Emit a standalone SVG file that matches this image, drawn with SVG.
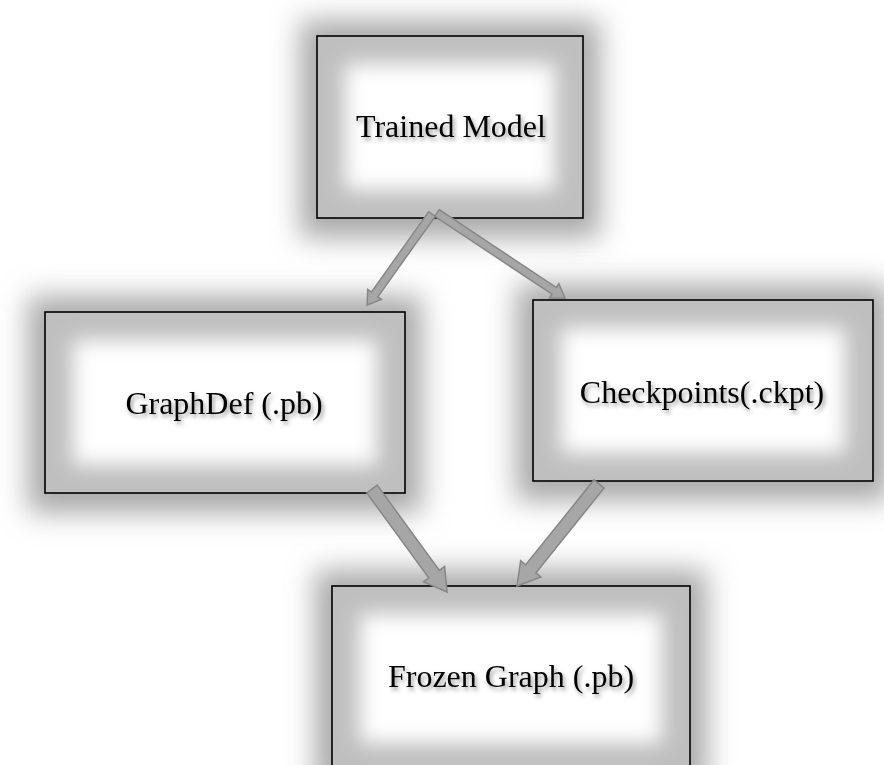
<svg xmlns="http://www.w3.org/2000/svg" width="884" height="765" viewBox="0 0 884 765">
  <defs>
    <style>
      .glow { fill: #a9a9a9; filter: url(#blurOuter); }
      .base { fill: #bfbfbf; }
      .inner { fill: #ffffff; filter: url(#blurInner); }
      .frame { fill: none; stroke: #000000; stroke-width: 1.6; }
      .label { font-family: "Liberation Serif", "Times New Roman", serif; font-size: 32px; fill: #000000; text-anchor: middle; filter: url(#textShadow); }
      .arrow { fill: #a6a6a6; stroke: #878787; stroke-width: 1.5; stroke-linejoin: miter; }
    </style>
    <filter id="blurOuter" x="-40%" y="-60%" width="180%" height="220%">
      <feGaussianBlur stdDeviation="14"/>
    </filter>
    <filter id="blurInner" x="-40%" y="-60%" width="180%" height="220%">
      <feGaussianBlur stdDeviation="10"/>
    </filter>
    <filter id="textShadow" x="-10%" y="-30%" width="120%" height="170%">
      <feDropShadow dx="2" dy="3" stdDeviation="2" flood-color="#000000" flood-opacity="0.4"/>
    </filter>
    <clipPath id="cTrained"><rect x="317" y="36" width="266" height="182"/></clipPath>
    <clipPath id="cGraph"><rect x="45" y="312" width="360" height="181"/></clipPath>
    <clipPath id="cCkpt"><rect x="533" y="300" width="340" height="181"/></clipPath>
    <clipPath id="cFrozen"><rect x="332" y="586" width="358" height="185"/></clipPath>
  </defs>
  <rect width="884" height="765" fill="#ffffff"/>

  <g id="trained-model">
    <rect class="glow" x="300" y="20" width="300" height="218"/>
    <g clip-path="url(#cTrained)">
      <rect class="base" x="317" y="36" width="266" height="182"/>
      <rect class="inner" x="345" y="64" width="210" height="126"/>
    </g>
    <rect class="frame" x="317" y="36" width="266" height="182"/>
    <text class="label" x="451" y="137">Trained Model</text>
  </g>

  <g id="graphdef">
    <rect class="glow" x="28" y="296" width="394" height="217"/>
    <g clip-path="url(#cGraph)">
      <rect class="base" x="45" y="312" width="360" height="181"/>
      <rect class="inner" x="73" y="340" width="304" height="125"/>
    </g>
    <rect class="frame" x="45" y="312" width="360" height="181"/>
    <text class="label" x="224" y="414">GraphDef (.pb)</text>
  </g>

  <g id="checkpoints">
    <rect class="glow" x="516" y="284" width="374" height="217"/>
    <g clip-path="url(#cCkpt)">
      <rect class="base" x="533" y="300" width="340" height="181"/>
      <rect class="inner" x="561" y="328" width="284" height="125"/>
    </g>
    <rect class="frame" x="533" y="300" width="340" height="181"/>
    <text class="label" x="702" y="403">Checkpoints(.ckpt)</text>
  </g>

  <g id="frozen-graph">
    <rect class="glow" x="315" y="570" width="392" height="220"/>
    <g clip-path="url(#cFrozen)">
      <rect class="base" x="332" y="586" width="358" height="185"/>
      <rect class="inner" x="360" y="614" width="302" height="129"/>
    </g>
    <rect class="frame" x="332" y="586" width="358" height="185"/>
    <text class="label" x="511" y="687">Frozen Graph (.pb)</text>
  </g>

  <g id="connectors">
    <path class="arrow" transform="translate(432,214) rotate(125.5)" d="M0,-4 L98.8,-4 L98.8,-8.5 L111.8,0 L98.8,8.5 L98.8,4 L0,4 Z"/>
    <path class="arrow" transform="translate(437,213) rotate(33.6)" d="M0,-4 L140.7,-4 L140.7,-8.5 L153.7,0 L140.7,8.5 L140.7,4 L0,4 Z"/>
    <path class="arrow" transform="translate(372,489) rotate(53.9)" d="M0,-6.5 L105.4,-6.5 L105.4,-13 L127.4,0 L105.4,13 L105.4,6.5 L0,6.5 Z"/>
    <path class="arrow" transform="translate(599,484) rotate(128.8)" d="M0,-6.5 L108.9,-6.5 L108.9,-13 L130.9,0 L108.9,13 L108.9,6.5 L0,6.5 Z"/>
  </g>
</svg>
